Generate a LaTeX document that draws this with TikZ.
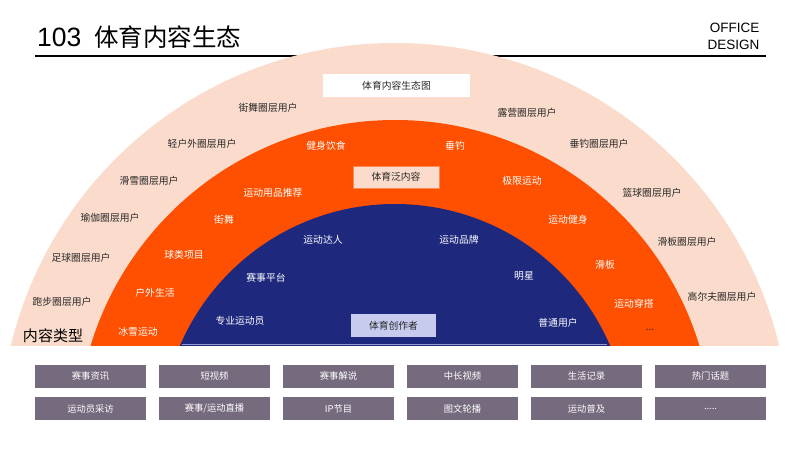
\documentclass[tikz,border=0pt]{standalone}
\usepackage{fontspec}
\setmainfont{Noto Sans CJK SC}
\newfontfamily\latinfont{Liberation Sans}
\definecolor{peach}{RGB}{251,219,204}
\definecolor{hotorange}{RGB}{254,80,0}
\definecolor{deepnavy}{RGB}{30,40,125}
\definecolor{lavender}{RGB}{199,204,239}
\definecolor{greypurple}{RGB}{117,106,126}
\definecolor{labelgray}{RGB}{40,40,40}
\newcommand{\fivedots}{.....}

\begin{document}
\begin{tikzpicture}[x=1pt, y=-1pt,
    ringlbl/.style={font=\fontsize{9.8}{11}\selectfont, text=labelgray},
    midlbl/.style={font=\fontsize{9.8}{11}\selectfont, text=white},
    tagbox/.style={fill=#1, inner sep=0pt, font=\fontsize{9.8}{11}\selectfont, text=labelgray},
    typebox/.style={fill=greypurple, text=white, minimum width=111pt, minimum height=23pt, inner sep=0pt, font=\fontsize{9.3}{11}\selectfont}]
    \useasboundingbox (0,0) rectangle (800,450);
    \fill[white] (0,0) rectangle (800,450);

    % 标题
    \node[anchor=west, font=\fontsize{24.5}{28}\selectfont, inner sep=0pt] (title) at (37,37) {{\latinfont\fontsize{26.5}{28}\selectfont 103}\hspace{13pt}体育内容生态};
    \node[anchor=east, align=right, font=\latinfont\fontsize{13.5}{17}\selectfont] (brand) at (763,36) {OFFICE\\DESIGN};
    \draw[line width=1.2pt] (35,56) -- (766,56);

    % 三层半圆
    \begin{scope}
        \clip (0,0) rectangle (800,345);
        \fill[peach] (395,438) circle (395pt);
        \fill[hotorange] (395,438) circle (318pt);
        \fill[deepnavy] (395,438) circle (234pt);
    \end{scope}
    \draw[lavender!70!deepnavy, line width=1pt] (182,344.5) -- (607,344.5);

    % 层名称框
    \node[tagbox=white, minimum width=147pt, minimum height=23pt] (eco) at (396.5,85.5) {体育内容生态图};
    \node[tagbox=peach, draw=hotorange!60!peach, minimum width=86pt, minimum height=22pt] (pan) at (396,177) {体育泛内容};
    \node[tagbox=lavender, minimum width=85pt, minimum height=23pt] (creator) at (393.5,325.5) {体育创作者};

    % 外层：圈层用户
    \node[ringlbl] (u1) at (268,108) {街舞圈层用户};
    \node[ringlbl] (u2) at (527,113) {露营圈层用户};
    \node[ringlbl] (u3) at (202,144) {轻户外圈层用户};
    \node[ringlbl] (u4) at (599,144) {垂钓圈层用户};
    \node[ringlbl] (u5) at (149,181) {滑雪圈层用户};
    \node[ringlbl] (u6) at (652,193) {篮球圈层用户};
    \node[ringlbl] (u7) at (110,218) {瑜伽圈层用户};
    \node[ringlbl] (u8) at (687,242) {滑板圈层用户};
    \node[ringlbl] (u9) at (81,258) {足球圈层用户};
    \node[ringlbl] (u10) at (722,297) {高尔夫圈层用户};
    \node[ringlbl] (u11) at (62,302) {跑步圈层用户};
    \node[font=\fontsize{15}{18}\selectfont, text=black] (kind) at (53,336) {内容类型};

    % 中层：泛内容
    \node[midlbl] (m1) at (326,146) {健身饮食};
    \node[midlbl] (m2) at (455,146) {垂钓};
    \node[midlbl] (m3) at (273,193) {运动用品推荐};
    \node[midlbl] (m4) at (522,181) {极限运动};
    \node[midlbl] (m5) at (224,220) {街舞};
    \node[midlbl] (m6) at (568,220) {运动健身};
    \node[midlbl] (m7) at (184,255) {球类项目};
    \node[midlbl] (m8) at (605,265) {滑板};
    \node[midlbl] (m9) at (155,293) {户外生活};
    \node[midlbl] (m10) at (634,304) {运动穿搭};
    \node[midlbl] (m11) at (138,332) {冰雪运动};
    \node[ringlbl] (m12) at (650,330) {...};

    % 内层：创作者
    \node[midlbl] (c1) at (323,240) {运动达人};
    \node[midlbl] (c2) at (459,240) {运动品牌};
    \node[midlbl] (c3) at (266,278) {赛事平台};
    \node[midlbl] (c4) at (524,276) {明星};
    \node[midlbl] (c5) at (240,321) {专业运动员};
    \node[midlbl] (c6) at (558,323) {普通用户};

    % 内容类型
    \foreach \lbl [count=\i from 0] in {赛事资讯,短视频,赛事解说,中长视频,生活记录,热门话题}
        \node[typebox] (ta\i) at (90.5+124*\i,376) {\lbl};
    \foreach \lbl [count=\i from 0] in {运动员采访,赛事/运动直播,IP节目,图文轮播,运动普及,\fivedots}
        \node[typebox] (tb\i) at (90.5+124*\i,408.5) {\lbl};

\end{tikzpicture}
\end{document}
